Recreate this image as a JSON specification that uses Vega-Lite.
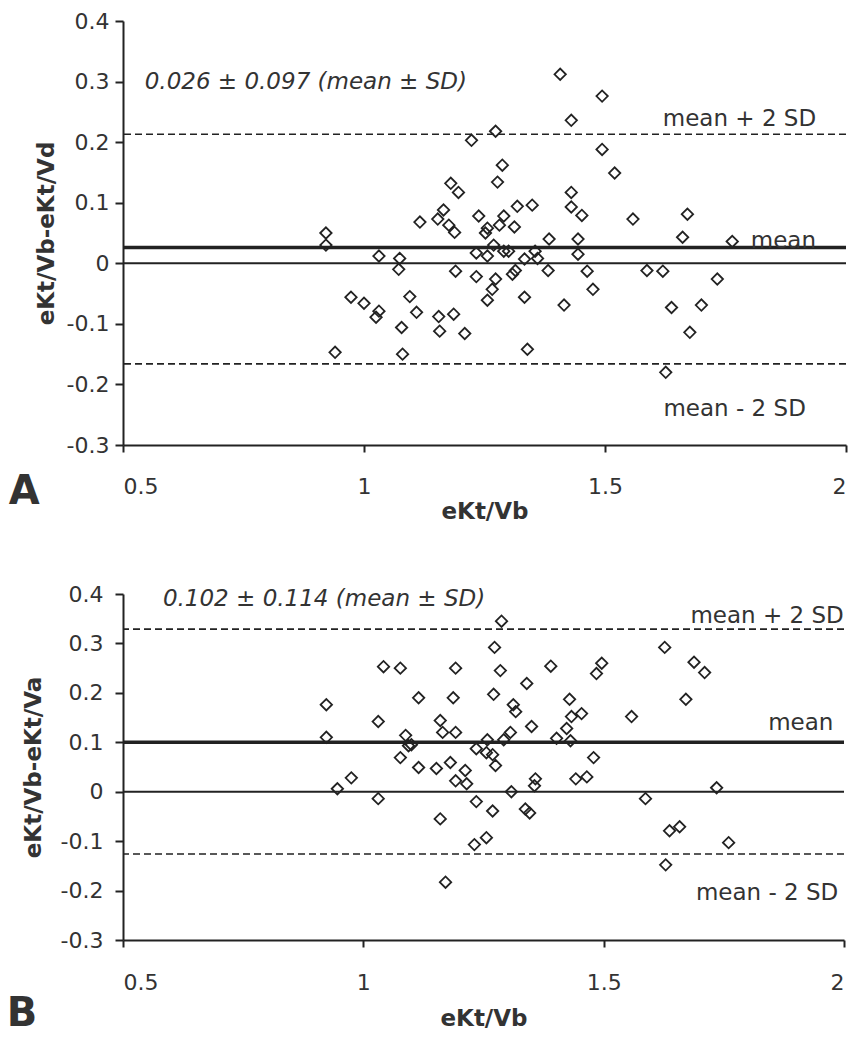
{
  "$schema": "https://vega.github.io/schema/vega-lite/v6.json",
  "background": "white",
  "padding": {"left": 6, "top": 10, "right": 0, "bottom": 0},
  "spacing": 60,
  "config": {
    "view": {"stroke": null},
    "font": "DejaVu Sans",
    "axis": {
      "grid": false,
      "domainColor": "#222",
      "domainWidth": 2,
      "tickColor": "#222",
      "tickWidth": 2,
      "labelFont": "DejaVu Sans",
      "labelFontSize": 22,
      "labelColor": "#333",
      "titleFont": "DejaVu Sans",
      "titleFontSize": 23,
      "titleFontWeight": "bold",
      "titleColor": "#333"
    }
  },
  "datasets": {
    "pointsA": [
      {"x": 1.407, "y": 0.312}, {"x": 1.43, "y": 0.236}, {"x": 1.273, "y": 0.218}, {"x": 1.223, "y": 0.203},
      {"x": 1.287, "y": 0.162}, {"x": 1.277, "y": 0.134}, {"x": 1.18, "y": 0.132}, {"x": 1.196, "y": 0.117},
      {"x": 1.43, "y": 0.117}, {"x": 1.43, "y": 0.093}, {"x": 1.318, "y": 0.094}, {"x": 1.349, "y": 0.096},
      {"x": 1.165, "y": 0.088}, {"x": 1.153, "y": 0.073}, {"x": 1.116, "y": 0.068}, {"x": 1.176, "y": 0.063},
      {"x": 1.188, "y": 0.051}, {"x": 1.238, "y": 0.078}, {"x": 1.29, "y": 0.078}, {"x": 1.281, "y": 0.063},
      {"x": 1.312, "y": 0.06}, {"x": 1.256, "y": 0.058}, {"x": 1.252, "y": 0.05}, {"x": 1.384, "y": 0.04},
      {"x": 0.921, "y": 0.05}, {"x": 0.921, "y": 0.03}, {"x": 1.269, "y": 0.03}, {"x": 1.29, "y": 0.02},
      {"x": 1.3, "y": 0.02}, {"x": 1.355, "y": 0.02}, {"x": 1.233, "y": 0.017}, {"x": 1.256, "y": 0.012},
      {"x": 1.031, "y": 0.012}, {"x": 1.074, "y": 0.008}, {"x": 1.36, "y": 0.008}, {"x": 1.333, "y": 0.007},
      {"x": 1.072, "y": -0.01}, {"x": 1.19, "y": -0.013}, {"x": 1.314, "y": -0.012}, {"x": 1.382, "y": -0.012},
      {"x": 1.308, "y": -0.018}, {"x": 1.233, "y": -0.022}, {"x": 1.273, "y": -0.026}, {"x": 1.266, "y": -0.043},
      {"x": 1.256, "y": -0.061}, {"x": 1.333, "y": -0.056}, {"x": 1.415, "y": -0.069}, {"x": 0.973, "y": -0.056},
      {"x": 1.0, "y": -0.066}, {"x": 1.031, "y": -0.079}, {"x": 1.025, "y": -0.089}, {"x": 1.095, "y": -0.055},
      {"x": 1.109, "y": -0.081}, {"x": 1.155, "y": -0.088}, {"x": 1.186, "y": -0.084}, {"x": 1.078, "y": -0.106},
      {"x": 1.157, "y": -0.112}, {"x": 1.209, "y": -0.116}, {"x": 0.94, "y": -0.147}, {"x": 1.08, "y": -0.15},
      {"x": 1.339, "y": -0.142}, {"x": 1.494, "y": 0.276}, {"x": 1.494, "y": 0.188}, {"x": 1.52, "y": 0.149},
      {"x": 1.452, "y": 0.079}, {"x": 1.558, "y": 0.073}, {"x": 1.671, "y": 0.081}, {"x": 1.661, "y": 0.043},
      {"x": 1.764, "y": 0.036}, {"x": 1.444, "y": 0.04}, {"x": 1.444, "y": 0.015}, {"x": 1.463, "y": -0.013},
      {"x": 1.587, "y": -0.012}, {"x": 1.62, "y": -0.013}, {"x": 1.733, "y": -0.026}, {"x": 1.475, "y": -0.043},
      {"x": 1.638, "y": -0.073}, {"x": 1.7, "y": -0.069}, {"x": 1.676, "y": -0.114}, {"x": 1.626, "y": -0.18}
    ],
    "pointsB": [
      {"x": 1.2875, "y": 0.345}, {"x": 1.273, "y": 0.292}, {"x": 1.042, "y": 0.253}, {"x": 1.077, "y": 0.25},
      {"x": 1.192, "y": 0.25}, {"x": 1.285, "y": 0.245}, {"x": 1.39, "y": 0.254}, {"x": 1.34, "y": 0.219},
      {"x": 1.115, "y": 0.19}, {"x": 1.187, "y": 0.19}, {"x": 1.271, "y": 0.197}, {"x": 1.312, "y": 0.176},
      {"x": 1.317, "y": 0.162}, {"x": 0.923, "y": 0.176}, {"x": 1.031, "y": 0.142}, {"x": 1.16, "y": 0.144},
      {"x": 1.35, "y": 0.132}, {"x": 1.165, "y": 0.12}, {"x": 1.192, "y": 0.12}, {"x": 0.923, "y": 0.11},
      {"x": 1.088, "y": 0.114}, {"x": 1.094, "y": 0.093}, {"x": 1.1, "y": 0.095}, {"x": 1.258, "y": 0.105},
      {"x": 1.292, "y": 0.105}, {"x": 1.306, "y": 0.12}, {"x": 1.402, "y": 0.108}, {"x": 1.235, "y": 0.087},
      {"x": 1.256, "y": 0.079}, {"x": 1.269, "y": 0.075}, {"x": 1.077, "y": 0.069}, {"x": 1.275, "y": 0.053},
      {"x": 1.115, "y": 0.049}, {"x": 1.152, "y": 0.047}, {"x": 1.181, "y": 0.059}, {"x": 1.212, "y": 0.043},
      {"x": 1.192, "y": 0.022}, {"x": 1.215, "y": 0.016}, {"x": 1.358, "y": 0.026}, {"x": 1.356, "y": 0.012},
      {"x": 0.975, "y": 0.028}, {"x": 0.946, "y": 0.006}, {"x": 1.031, "y": -0.014}, {"x": 1.308, "y": 0.0},
      {"x": 1.235, "y": -0.02}, {"x": 1.269, "y": -0.039}, {"x": 1.337, "y": -0.035}, {"x": 1.346, "y": -0.043},
      {"x": 1.16, "y": -0.055}, {"x": 1.256, "y": -0.093}, {"x": 1.231, "y": -0.107}, {"x": 1.171, "y": -0.183},
      {"x": 1.627, "y": 0.292}, {"x": 1.496, "y": 0.26}, {"x": 1.485, "y": 0.239}, {"x": 1.688, "y": 0.262},
      {"x": 1.71, "y": 0.241}, {"x": 1.429, "y": 0.187}, {"x": 1.671, "y": 0.187}, {"x": 1.433, "y": 0.152},
      {"x": 1.454, "y": 0.158}, {"x": 1.558, "y": 0.152}, {"x": 1.423, "y": 0.128}, {"x": 1.431, "y": 0.103},
      {"x": 1.479, "y": 0.069}, {"x": 1.442, "y": 0.026}, {"x": 1.465, "y": 0.03}, {"x": 1.735, "y": 0.008},
      {"x": 1.587, "y": -0.014}, {"x": 1.637, "y": -0.079}, {"x": 1.658, "y": -0.071}, {"x": 1.76, "y": -0.103},
      {"x": 1.629, "y": -0.148}
    ],
    "refA": [
      {"line": "limit", "y": 0.213}, {"line": "limit", "y": -0.166},
      {"line": "mean", "y": 0.026}, {"line": "zero", "y": 0}
    ],
    "refB": [
      {"line": "limit", "y": 0.329}, {"line": "limit", "y": -0.126},
      {"line": "mean", "y": 0.1}, {"line": "zero", "y": 0}
    ],
    "textA": [
      {"kind": "stat", "x": 0.545, "y": 0.3, "label": "0.026 ± 0.097 (mean ± SD)"},
      {"kind": "band", "x": 1.779, "y": 0.238, "label": "mean + 2 SD"},
      {"kind": "band", "x": 1.87, "y": 0.036, "label": "mean"},
      {"kind": "band", "x": 1.769, "y": -0.241, "label": "mean - 2 SD"},
      {"kind": "panel", "x": 0.295, "y": -0.378, "label": "A"}
    ],
    "textB": [
      {"kind": "stat", "x": 0.583, "y": 0.389, "label": "0.102 ± 0.114 (mean ± SD)"},
      {"kind": "band", "x": 1.84, "y": 0.355, "label": "mean + 2 SD"},
      {"kind": "band", "x": 1.91, "y": 0.14, "label": "mean"},
      {"kind": "band", "x": 1.84, "y": -0.205, "label": "mean - 2 SD"},
      {"kind": "panel", "x": 0.29, "y": -0.45, "label": "B"}
    ]
  },
  "vconcat": [
    {
      "width": 723,
      "height": 424,
      "layer": [
        {
          "data": {"name": "refA"},
          "transform": [{"filter": "datum.line == 'limit'"}],
          "mark": {"type": "rule", "color": "#222", "strokeWidth": 1.6, "strokeDash": [7, 4]},
          "encoding": {"y": {"field": "y", "type": "quantitative", "scale": {"domain": [-0.3, 0.4], "nice": false, "zero": false}}}
        },
        {
          "data": {"name": "refA"},
          "transform": [{"filter": "datum.line == 'mean'"}],
          "mark": {"type": "rule", "color": "#222", "strokeWidth": 3.5},
          "encoding": {"y": {"field": "y", "type": "quantitative"}}
        },
        {
          "data": {"name": "refA"},
          "transform": [{"filter": "datum.line == 'zero'"}],
          "mark": {"type": "rule", "color": "#222", "strokeWidth": 2},
          "encoding": {"y": {"field": "y", "type": "quantitative"}}
        },
        {
          "data": {"name": "pointsA"},
          "mark": {"type": "point", "shape": "diamond", "filled": false, "size": 130, "strokeWidth": 1.8, "color": "#222", "opacity": 1},
          "encoding": {
            "x": {"field": "x", "type": "quantitative", "scale": {"domain": [0.5, 2], "nice": false, "zero": false},
                  "axis": {"title": "eKt/Vb", "values": [0.5, 1, 1.5, 2], "labelExpr": "'' + datum.value", "tickSize": 7, "labelPadding": 24, "titlePadding": 3}},
            "y": {"field": "y", "type": "quantitative", "scale": {"domain": [-0.3, 0.4], "nice": false, "zero": false},
                  "axis": {"title": "eKt/Vb-eKt/Vd", "values": [-0.3, -0.2, -0.1, 0, 0.1, 0.2, 0.3, 0.4], "labelExpr": "'' + datum.value", "tickSize": 8, "labelPadding": 6, "titlePadding": 8}}
          }
        },
        {
          "data": {"name": "textA"},
          "transform": [{"filter": "datum.kind == 'stat'"}],
          "mark": {"type": "text", "align": "left", "baseline": "middle", "fontStyle": "italic", "fontSize": 23, "color": "#333"},
          "encoding": {"x": {"field": "x", "type": "quantitative"}, "y": {"field": "y", "type": "quantitative"}, "text": {"field": "label"}}
        },
        {
          "data": {"name": "textA"},
          "transform": [{"filter": "datum.kind == 'band'"}],
          "mark": {"type": "text", "align": "center", "baseline": "middle", "fontSize": 23, "color": "#333"},
          "encoding": {"x": {"field": "x", "type": "quantitative"}, "y": {"field": "y", "type": "quantitative"}, "text": {"field": "label"}}
        },
        {
          "data": {"name": "textA"},
          "transform": [{"filter": "datum.kind == 'panel'"}],
          "mark": {"type": "text", "align": "center", "baseline": "middle", "fontSize": 40, "fontWeight": "bold", "color": "#333"},
          "encoding": {"x": {"field": "x", "type": "quantitative"}, "y": {"field": "y", "type": "quantitative"}, "text": {"field": "label"}}
        }
      ]
    },
    {
      "width": 721,
      "height": 346,
      "layer": [
        {
          "data": {"name": "refB"},
          "transform": [{"filter": "datum.line == 'limit'"}],
          "mark": {"type": "rule", "color": "#222", "strokeWidth": 1.6, "strokeDash": [7, 4]},
          "encoding": {"y": {"field": "y", "type": "quantitative", "scale": {"domain": [-0.3, 0.4], "nice": false, "zero": false}}}
        },
        {
          "data": {"name": "refB"},
          "transform": [{"filter": "datum.line == 'mean'"}],
          "mark": {"type": "rule", "color": "#222", "strokeWidth": 3.5},
          "encoding": {"y": {"field": "y", "type": "quantitative"}}
        },
        {
          "data": {"name": "refB"},
          "transform": [{"filter": "datum.line == 'zero'"}],
          "mark": {"type": "rule", "color": "#222", "strokeWidth": 2},
          "encoding": {"y": {"field": "y", "type": "quantitative"}}
        },
        {
          "data": {"name": "pointsB"},
          "mark": {"type": "point", "shape": "diamond", "filled": false, "size": 130, "strokeWidth": 1.8, "color": "#222", "opacity": 1},
          "encoding": {
            "x": {"field": "x", "type": "quantitative", "scale": {"domain": [0.5, 2], "nice": false, "zero": false},
                  "axis": {"title": "eKt/Vb", "values": [0.5, 1, 1.5, 2], "labelExpr": "'' + datum.value", "tickSize": 7, "labelPadding": 25, "titlePadding": 14}},
            "y": {"field": "y", "type": "quantitative", "scale": {"domain": [-0.3, 0.4], "nice": false, "zero": false},
                  "axis": {"title": "eKt/Vb-eKt/Va", "values": [-0.3, -0.2, -0.1, 0, 0.1, 0.2, 0.3, 0.4], "labelExpr": "'' + datum.value", "tickSize": 8, "labelPadding": 12, "titlePadding": 15}}
          }
        },
        {
          "data": {"name": "textB"},
          "transform": [{"filter": "datum.kind == 'stat'"}],
          "mark": {"type": "text", "align": "left", "baseline": "middle", "fontStyle": "italic", "fontSize": 23, "color": "#333"},
          "encoding": {"x": {"field": "x", "type": "quantitative"}, "y": {"field": "y", "type": "quantitative"}, "text": {"field": "label"}}
        },
        {
          "data": {"name": "textB"},
          "transform": [{"filter": "datum.kind == 'band'"}],
          "mark": {"type": "text", "align": "center", "baseline": "middle", "fontSize": 23, "color": "#333"},
          "encoding": {"x": {"field": "x", "type": "quantitative"}, "y": {"field": "y", "type": "quantitative"}, "text": {"field": "label"}}
        },
        {
          "data": {"name": "textB"},
          "transform": [{"filter": "datum.kind == 'panel'"}],
          "mark": {"type": "text", "align": "center", "baseline": "middle", "fontSize": 40, "fontWeight": "bold", "color": "#333"},
          "encoding": {"x": {"field": "x", "type": "quantitative"}, "y": {"field": "y", "type": "quantitative"}, "text": {"field": "label"}}
        }
      ]
    }
  ]
}
